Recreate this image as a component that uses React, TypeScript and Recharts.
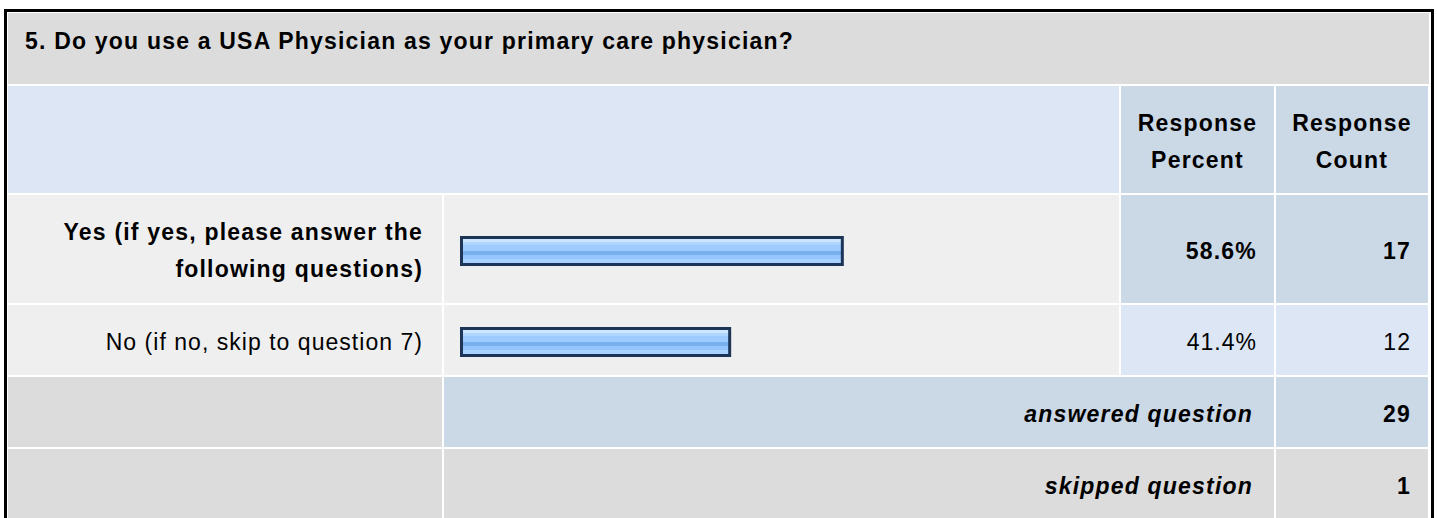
import React from "react";
import { BarChart, Bar, XAxis, YAxis } from "recharts";

const question = "5. Do you use a USA Physician as your primary care physician?";
const headerPercent = ["Response", "Percent"];
const headerCount = ["Response", "Count"];
const answers = [
  "Yes (if yes, please answer the following questions)",
  "No (if no, skip to question 7)",
];
const percents = [58.6, 41.4];
const counts = [17, 12];
const summaryLabels = ["answered question", "skipped question"];
const summaryCounts = [29, 1];

const FONT = '"Liberation Sans", Arial, sans-serif';
const GRAY = "#dcdcdc";
const LIGHT = "#efefef";
const BLUE = "#dce6f4";
const DARKBLUE = "#cbd8e6";

// column edges
const COL_LABEL = [8, 442];
const COL_BAR = [444, 1119];
const COL_PCT = [1121, 1274];
const COL_CNT = [1276, 1428];

const ROWS = {
  title: [13, 84],
  header: [86, 193],
  r1: [195, 303],
  r2: [305, 375],
  answered: [377, 447],
  skipped: [449, 519],
};

interface CellProps {
  x: number[];
  y: number[];
  bg: string;
  align?: "left" | "right" | "center";
  bold?: boolean;
  italic?: boolean;
  padL?: number;
  padR?: number;
  padT?: number;
  children?: React.ReactNode;
}

function Cell({ x, y, bg, align = "left", bold, italic, padL = 0, padR = 0, padT = 4, children }: CellProps) {
  return (
    <div
      style={{
        position: "absolute",
        left: x[0],
        top: y[0],
        width: x[1] - x[0],
        height: y[1] - y[0],
        background: bg,
        boxSizing: "border-box",
        paddingLeft: padL,
        paddingRight: padR,
        paddingTop: padT,
        display: "flex",
        alignItems: "center",
        justifyContent: align === "right" ? "flex-end" : align === "center" ? "center" : "flex-start",
        textAlign: align,
        fontFamily: FONT,
        fontSize: 23,
        letterSpacing: bold ? 1.2 : 1.03,
        lineHeight: "37px",
        fontWeight: bold ? 700 : 400,
        fontStyle: italic ? "italic" : "normal",
        color: "#000",
      }}
    >
      <div>{children}</div>
    </div>
  );
}

function GlossyBar(props: any) {
  const { x, y, width, height } = props;
  if (!width || width <= 0) return null;
  const b = 3;
  return (
    <g>
      <defs>
        <linearGradient id="barGloss" x1="0" y1="0" x2="0" y2="1">
          <stop offset="0" stopColor="#cde6ff" />
          <stop offset="0.12" stopColor="#cde6ff" />
          <stop offset="0.12" stopColor="#b0d5ff" />
          <stop offset="0.25" stopColor="#b0d5ff" />
          <stop offset="0.25" stopColor="#9dcbff" />
          <stop offset="0.5" stopColor="#9dcbff" />
          <stop offset="0.5" stopColor="#78b0ee" />
          <stop offset="0.67" stopColor="#78b0ee" />
          <stop offset="0.67" stopColor="#94c5ff" />
          <stop offset="0.85" stopColor="#94c5ff" />
          <stop offset="0.85" stopColor="#a8d2ff" />
          <stop offset="1" stopColor="#a8d2ff" />
        </linearGradient>
      </defs>
      <rect x={x} y={y} width={width} height={height} fill="#1d3658" />
      <rect x={x + b} y={y + b} width={width - 2 * b} height={height - 2 * b} fill="url(#barGloss)" />
    </g>
  );
}

function RowBar({ index, y }: { index: number; y: number[] }) {
  const data = [{ name: answers[index], value: percents[index] }];
  const h = y[1] - y[0];
  return (
    <div style={{ position: "absolute", left: COL_BAR[0], top: y[0] }}>
      <BarChart
        width={COL_BAR[1] - COL_BAR[0]}
        height={h}
        data={data}
        layout="vertical"
        margin={{ top: 4, right: 4, bottom: 0, left: 16 }}
      >
        <XAxis type="number" domain={[0, 100]} hide />
        <YAxis type="category" dataKey="name" hide />
        <Bar dataKey="value" barSize={30} shape={GlossyBar} isAnimationActive={false} />
      </BarChart>
    </div>
  );
}

export default function App() {
  const rowYs = [ROWS.r1, ROWS.r2];
  return (
    <div style={{ position: "absolute", left: 0, top: 0, width: 1437, height: 518, background: "#fff", overflow: "hidden" }}>
      <div
        style={{
          position: "absolute",
          left: 4,
          top: 9,
          width: 1430,
          height: 540,
          border: "3px solid #000",
          boxSizing: "border-box",
        }}
      />
      <Cell x={[8, 1429]} y={ROWS.title} bg={GRAY} bold padL={17} padT={0}>
        <div style={{ marginTop: -14 }}>{question}</div>
      </Cell>

      <Cell x={[8, 1119]} y={ROWS.header} bg={BLUE} />
      <Cell x={COL_PCT} y={ROWS.header} bg={DARKBLUE} align="center" bold>
        {headerPercent[0]}
        <br />
        {headerPercent[1]}
      </Cell>
      <Cell x={COL_CNT} y={ROWS.header} bg={DARKBLUE} align="center" bold>
        {headerCount[0]}
        <br />
        {headerCount[1]}
      </Cell>

      {rowYs.map((y, i) => (
        <React.Fragment key={i}>
          <Cell x={COL_LABEL} y={y} bg={LIGHT} align="right" bold={i === 0} padL={20} padR={19}>
            {answers[i]}
          </Cell>
          <Cell x={COL_BAR} y={y} bg={LIGHT} />
          <Cell x={COL_PCT} y={y} bg={i === 0 ? DARKBLUE : BLUE} align="right" bold={i === 0} padR={17}>
            {percents[i].toFixed(1) + "%"}
          </Cell>
          <Cell x={COL_CNT} y={y} bg={i === 0 ? DARKBLUE : BLUE} align="right" bold={i === 0} padR={17}>
            {counts[i]}
          </Cell>
          <RowBar index={i} y={y} />
        </React.Fragment>
      ))}

      <Cell x={COL_LABEL} y={ROWS.answered} bg={GRAY} />
      <Cell x={[444, 1274]} y={ROWS.answered} bg={DARKBLUE} align="right" bold italic padR={21}>
        {summaryLabels[0]}
      </Cell>
      <Cell x={COL_CNT} y={ROWS.answered} bg={DARKBLUE} align="right" bold padR={17}>
        {summaryCounts[0]}
      </Cell>

      <Cell x={COL_LABEL} y={ROWS.skipped} bg={GRAY} />
      <Cell x={[444, 1274]} y={ROWS.skipped} bg={GRAY} align="right" bold italic padR={21}>
        {summaryLabels[1]}
      </Cell>
      <Cell x={COL_CNT} y={ROWS.skipped} bg={GRAY} align="right" bold padR={17}>
        {summaryCounts[1]}
      </Cell>
    </div>
  );
}
